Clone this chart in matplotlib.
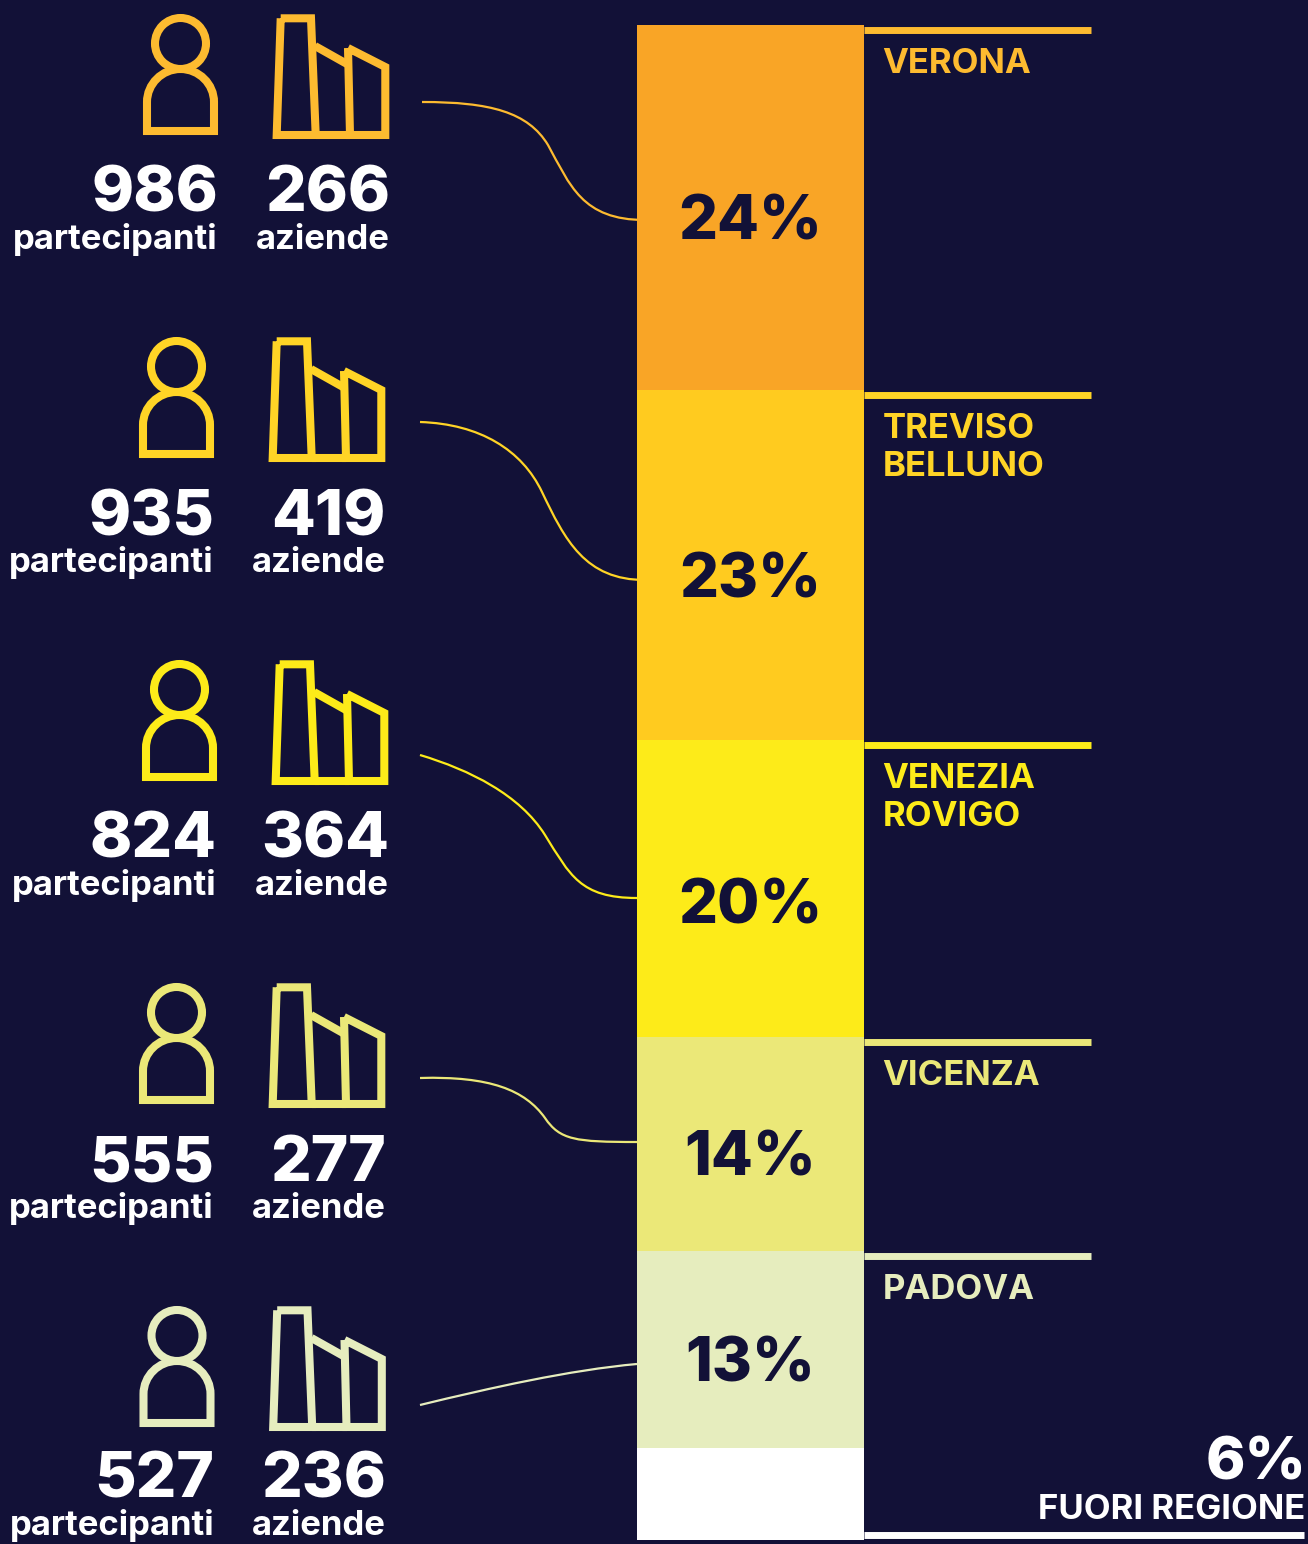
import matplotlib
matplotlib.use("Agg")
import matplotlib.pyplot as plt
from matplotlib.path import Path
from matplotlib.patches import PathPatch, Circle

# ---- data ----
regions = ["VERONA", "TREVISO\nBELLUNO", "VENEZIA\nROVIGO", "VICENZA", "PADOVA"]
pct_labels = ["24%", "23%", "20%", "14%", "13%"]
other_label = "6%"
other_name = "FUORI REGIONE"
shares = [24.1, 23.1, 19.6, 14.1, 13.0, 6.1]
participants = [986, 935, 824, 555, 527]
companies = [266, 419, 364, 277, 236]
seg_colors = ["#F9A526", "#FFCB1F", "#FDEB19", "#EBE878", "#E6EDBE", "#FFFFFF"]
icon_colors = ["#FDBB30", "#FFD426", "#FDEB19", "#EBE878", "#E6EDBE"]
BG = "#121137"

FONT = ["Inter", "DejaVu Sans"]
plt.rcParams["font.family"] = FONT

fig = plt.figure(figsize=(13.08, 15.44), dpi=100, facecolor=BG)
ax = fig.add_axes([0, 0, 1, 1])
ax.set_xlim(0, 1308)
ax.set_ylim(1544, 0)
ax.axis("off")

# stacked column
TOP = 25
SCALE = 15.15
bottom = TOP
edges = []
for s, c in zip(shares, seg_colors):
    h = s * SCALE
    ax.bar(750.5, h, width=227, bottom=bottom, color=c, linewidth=0, zorder=2)
    edges.append(bottom)
    bottom += h

LW = 5
# region rules + labels
for i, (r, c) in enumerate(zip(regions, icon_colors)):
    y = edges[i] + 5
    ax.plot([864, 1091], [y, y], color=c, lw=LW, solid_capstyle="butt", zorder=3)
    ax.text(882.5, y + 18, r, color=c, fontsize=25, fontweight="bold", va="top", ha="left",
            linespacing=1.22, zorder=4)

ax.plot([864, 1304], [1535, 1535], color="white", lw=LW, solid_capstyle="butt")
ax.text(1307, 1479, other_label, color="white", fontsize=43, fontweight="heavy", ha="right", va="baseline")
ax.text(1305, 1519, other_name, color="white", fontsize=25, fontweight="bold", ha="right", va="baseline")

# percent labels
pct_y = [240, 597, 923, 1176, 1382]
for t, y in zip(pct_labels, pct_y):
    ax.text(750.5, y, t, color=BG, fontsize=44, fontweight="heavy", ha="center", va="baseline", zorder=4)

# connectors
connectors = [
    [(422, 102), (490, 102), (528, 112), (548, 145), (570, 185), (582, 220), (645, 220)],
    [(420, 422), (480, 424), (522, 450), (542, 492), (565, 540), (585, 580), (645, 580)],
    [(420, 755), (470, 770), (520, 795), (545, 835), (570, 875), (580, 898), (637, 898)],
    [(420, 1078), (490, 1076), (525, 1090), (545, 1118), (560, 1140), (575, 1142), (637, 1142)],
    [(420, 1405), (490, 1388), (570, 1370), (637, 1364)],
]
for pts, c in zip(connectors, icon_colors):
    codes = [Path.MOVETO] + [Path.CURVE4] * (len(pts) - 1)
    ax.add_patch(PathPatch(Path(pts, codes), fc="none", ec=c, lw=1.6, zorder=1))

# icons + counts
offs = [(0, 0), (-4, 323), (-1, 646), (-4, 969), (-3.5, 1292)]
label_nudge = [0, 0, 0, 0, -6]  # keeps the last row's texts inside the canvas
for (dx, dy), c, p, a, n in zip(offs, icon_colors, participants, companies, label_nudge):
    ilw = 5.8
    # person
    ax.add_patch(Circle((180.5 + dx, 43.5 + dy), 25.5, fc="none", ec=c, lw=ilw))
    body = Path([(147 + dx, 131 + dy), (147 + dx, 102 + dy),
                 (147 + dx, 84 + dy), (162 + dx, 69 + dy), (180.5 + dx, 69 + dy),
                 (199 + dx, 69 + dy), (214 + dx, 84 + dy), (214 + dx, 102 + dy),
                 (214 + dx, 131 + dy), (147 + dx, 131 + dy)],
                [Path.MOVETO, Path.LINETO, Path.CURVE4, Path.CURVE4, Path.CURVE4,
                 Path.CURVE4, Path.CURVE4, Path.CURVE4, Path.LINETO, Path.CLOSEPOLY])
    ax.add_patch(PathPatch(body, fc="none", ec=c, lw=ilw, joinstyle="miter"))
    # factory
    shapes = [
        [(280.7, 18.3), (311, 18.3), (315.7, 135), (276.7, 135), (280.7, 18.3)],
        [(315, 46), (347, 64)],
        [(315.7, 135), (350, 135)],
        [(348, 48), (385.3, 67), (385.3, 135), (350, 135), (348, 48)],
    ]
    for sh in shapes:
        xs = [q[0] + dx for q in sh]
        ys = [q[1] + dy for q in sh]
        ax.plot(xs, ys, color=c, lw=ilw, solid_joinstyle="miter", solid_capstyle="butt")
    # counts
    ax.text(218 + dx, 212 + dy + n, str(p), color="white", fontsize=46, fontweight="heavy", ha="right", va="baseline")
    ax.text(390 + dx, 212 + dy + n, str(a), color="white", fontsize=46, fontweight="heavy", ha="right", va="baseline")
    ax.text(217.5 + dx, 249 + dy + n, "partecipanti", color="white", fontsize=25, fontweight="bold", ha="right", va="baseline")
    ax.text(389.5 + dx, 249 + dy + n, "aziende", color="white", fontsize=25, fontweight="bold", ha="right", va="baseline")

fig.savefig("out.png", dpi=100, facecolor=BG)
